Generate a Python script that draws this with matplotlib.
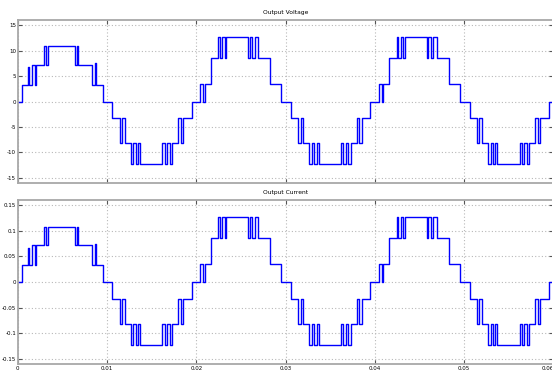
import matplotlib
matplotlib.use("Agg")
import matplotlib.pyplot as plt
import numpy as np

plt.rcParams['axes.unicode_minus'] = False
plt.rcParams['font.family'] = ['DejaVu Sans']

# ---- data (switching instants in s, new level after each instant) ----
# first (start-up) positive half cycle
t_first = [0.0, 0.00045, 0.0012, 0.00125, 0.00164, 0.0019, 0.0021, 0.0029, 0.0032, 0.0034,
           0.0064, 0.0066, 0.0068, 0.0083, 0.0087, 0.00875, 0.0095]
v_first = [0, 3.3, 6.7, 3.3, 7.2, 3.3, 7.2, 10.8, 7.2, 10.8, 7.2, 10.8, 7.2, 3.3, 7.5, 3.3, 0]
i_first = [0, 0.033, 0.067, 0.033, 0.072, 0.033, 0.072, 0.108, 0.072, 0.108, 0.072, 0.108,
           0.072, 0.033, 0.075, 0.033, 0]

# negative half cycle (first occurrence, 0.01 - 0.02 s)
t_neg = [0.0106, 0.01142, 0.01171, 0.01198, 0.01265, 0.01295, 0.01321, 0.0135, 0.0137,
         0.0162, 0.01646, 0.01675, 0.01702, 0.01731, 0.01795, 0.01825, 0.01851, 0.01948]
v_neg = [-3.3, -8.2, -3.3, -8.2, -12.3, -8.2, -12.3, -8.2, -12.3,
         -8.2, -12.3, -8.2, -12.3, -8.2, -3.3, -8.2, -3.3, 0]
i_neg = [-0.033, -0.082, -0.033, -0.082, -0.123, -0.082, -0.123, -0.082, -0.123,
         -0.082, -0.123, -0.082, -0.123, -0.082, -0.033, -0.082, -0.033, 0]

# steady positive half cycle (first occurrence, 0.02 - 0.03 s)
t_pos = [0.02045, 0.02075, 0.02094, 0.02161, 0.02243, 0.02262, 0.02291, 0.02318, 0.02336,
         0.02579, 0.02598, 0.02627, 0.02654, 0.02691, 0.02829, 0.02952]
v_pos = [3.5, 0, 3.5, 8.5, 12.6, 8.5, 12.6, 8.5, 12.6, 8.5, 12.6, 8.5, 12.6, 8.5, 3.5, 0]
i_pos = [0.035, 0, 0.035, 0.085, 0.126, 0.085, 0.126, 0.085, 0.126, 0.085, 0.126, 0.085,
         0.126, 0.085, 0.035, 0]

period = 0.02
neg_repeats = [0, 1, 2]   # negative half cycles at 0.01, 0.03, 0.05 s
pos_repeats = [0, 1]      # positive half cycles at 0.02, 0.04 s
t_end = 0.06

x_ticks = [0, 0.01, 0.02, 0.03, 0.04, 0.05, 0.06]
x_ticklabels = ['0', '0.01', '0.02', '0.03', '0.04', '0.05', '0.06']
v_ticks = [15, 10, 5, 0, -5, -10, -15]
v_ticklabels = ['15', '10', '5', '0', '-5', '-10', '-15']
i_ticks = [0.15, 0.1, 0.05, 0, -0.05, -0.1, -0.15]
i_ticklabels = ['0.15', '0.1', '0.05', '0', '-0.05', '-0.1', '-0.15']


def build(tf, vf, tn, vn, tp, vp):
    t = list(tf)
    v = list(vf)
    segs = []
    for k in neg_repeats:
        segs.append((0.01 + k * period, [x + k * period for x in tn], vn))
    for k in pos_repeats:
        segs.append((0.02 + k * period, [x + k * period for x in tp], vp))
    segs.sort(key=lambda s: s[0])
    for _, ts, vs in segs:
        t += ts
        v += list(vs)
    t.append(t_end)
    v.append(v[-1])
    return np.array(t), np.array(v)


tv, vv = build(t_first, v_first, t_neg, v_neg, t_pos, v_pos)
ti, ii = build(t_first, i_first, t_neg, i_neg, t_pos, i_pos)

fig = plt.figure(figsize=(5.52, 3.72), dpi=100)
W, H = 552, 372
ax1 = fig.add_axes([17.7 / W, 1 - 183 / H, (553.5 - 17.7) / W, (183 - 20) / H])
ax2 = fig.add_axes([17.7 / W, 1 - 364 / H, (553.5 - 17.7) / W, (364 - 200) / H])

frame_c = '#a8a8a8'
for ax, t, y, yt, ytl, lim, title in [
        (ax1, tv, vv, v_ticks, v_ticklabels, (-16, 16), 'Output Voltage'),
        (ax2, ti, ii, i_ticks, i_ticklabels, (-0.16, 0.16), 'Output Current')]:
    ax.step(t, y, where='post', color='#0000ff', lw=1.0)
    ax.set_xlim(0, 0.06)
    ax.set_ylim(*lim)
    ax.set_xticks(x_ticks)
    ax.set_yticks(yt)
    ax.set_yticklabels(ytl)
    ax.grid(True, color='#b8b8b8', linestyle=(0, (1, 2)), linewidth=0.8)
    ax.tick_params(direction='in', length=3, width=0.8, color='#555555',
                   labelsize=4.0, pad=1.2, top=True, right=True)
    for s in ax.spines.values():
        s.set_color(frame_c)
        s.set_linewidth(1.3)
    ax.set_title(title, fontsize=4.3, pad=4)

ax1.set_xticklabels([])
ax2.set_xticklabels(x_ticklabels)
# keep the last tick label inside the canvas
for lbl in ax2.get_xticklabels():
    if lbl.get_text() == '0.06':
        lbl.set_horizontalalignment('right')

fig.savefig('out.png', dpi=100)
